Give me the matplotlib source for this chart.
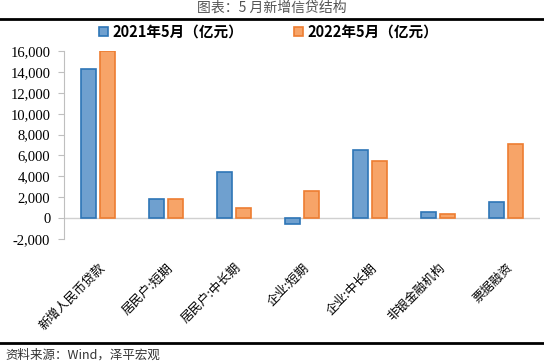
import numpy as np
import matplotlib.pyplot as plt
from matplotlib.lines import Line2D

cats = ["新增人民币贷款", "居民户:短期", "居民户:中长期", "企业:短期",
        "企业:中长期", "非银金融机构", "票据融资"]
may_2021 = [14300, 1800, 4400, -600, 6500, 600, 1500]
may_2022 = [16000, 1800, 1000, 2600, 5500, 400, 7100]
yticks = [-2000, 0, 2000, 4000, 6000, 8000, 10000, 12000, 14000, 16000]

cjk = ["Noto Sans CJK SC", "DejaVu Sans"]
plt.rcParams["font.family"] = cjk

fig = plt.figure(figsize=(5.44, 3.63), dpi=100)
ax = fig.add_axes([0.118, 0.342, 0.875, 0.517])

x = np.arange(len(cats))
w = 0.22
ax.axhline(0, color="#D0D0D0", linewidth=1, zorder=1)
ax.bar(x - w / 2 - 0.03, may_2021, w, color="#6FA0CF", edgecolor="#2E75B6",
       linewidth=1.2, label="2021年5月（亿元）", zorder=2)
ax.bar(x + w / 2 + 0.03, may_2022, w, color="#F7A468", edgecolor="#ED7D31",
       linewidth=1.2, label="2022年5月（亿元）", zorder=2)

ax.set_xlim(-0.5, len(cats) - 0.5)
ax.set_ylim(-2000, 16000)
ax.set_yticks(yticks)
ax.set_yticklabels([f"{v:,}" for v in yticks], family="Liberation Serif", fontsize=10.5)
ax.set_xticks(x)
ax.set_xticklabels(cats, rotation=45, ha="right", va="top", rotation_mode="anchor",
                   fontsize=9)
ax.tick_params(axis="x", length=0, pad=16)
ax.tick_params(axis="y", length=4, color="#BFBFBF", pad=6)
for s in ["top", "right", "bottom"]:
    ax.spines[s].set_visible(False)
ax.spines["left"].set_color("#BFBFBF")

ax.legend(loc="lower center", bbox_to_anchor=(0.43, 0.99), ncol=2, frameon=False,
          handlelength=0.6, handleheight=0.6, columnspacing=3.5,
          handletextpad=0.3, prop={"family": cjk, "weight": "bold", "size": 10.5})

fig.text(0.5, 0.978, "图表：5 月新增信贷结构", ha="center", va="center",
         fontsize=10, color="#555555")
fig.add_artist(Line2D([0, 1], [0.948, 0.948], color="black", linewidth=2))
fig.add_artist(Line2D([0, 1], [0.055, 0.055], color="black", linewidth=2))
fig.text(0.01, 0.022, "资料来源：Wind，泽平宏观", ha="left", va="center",
         fontsize=9, color="#333333", style="italic")

fig.savefig("out.png", dpi=100)
